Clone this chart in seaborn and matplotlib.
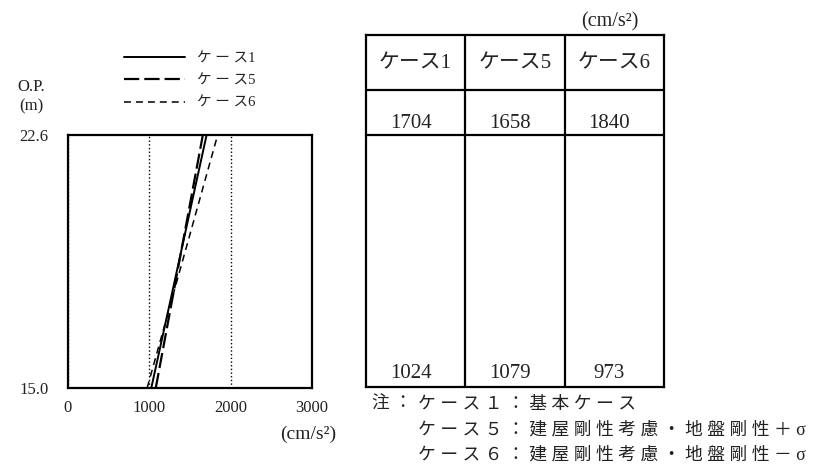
import matplotlib
matplotlib.use("Agg")
import matplotlib.pyplot as plt
import pandas as pd
import seaborn as sns

# Data
heights = [15.0, 22.6]                 # O.P. (m)
cases = ["ケース1", "ケース5", "ケース6"]
acc_bottom = [1024, 1079, 973]         # cm/s2 at O.P. 15.0
acc_top = [1704, 1658, 1840]           # cm/s2 at O.P. 22.6
x_ticks = [0, 1000, 2000, 3000]
note_head = "注："
notes = ["ケース１：基本ケース",
         "ケース５：建屋剛性考慮・地盤剛性＋σ",
         "ケース６：建屋剛性考慮・地盤剛性－σ"]

df = pd.DataFrame({
    "case": [c for c in cases for _ in heights],
    "height": heights * len(cases),
    "acc": [v for b, t in zip(acc_bottom, acc_top) for v in (b, t)],
})

sns.set_theme(style="white")
plt.rcParams["font.family"] = ["Liberation Serif", "Noto Sans CJK JP"]
plt.rcParams["lines.scale_dashes"] = False

W, H = 820, 468
fig = plt.figure(figsize=(W / 100, H / 100), dpi=100)
TXT = "#222222"


def fx(px):
    return px / W


def fy(py):
    return 1 - py / H


spaced = lambda s: " ".join(s)

# ---- profile plot ----
ax = fig.add_axes([fx(68), fy(388), fx(312 - 68), (388 - 135) / H])
styles = {"ケース1": ("-", 1.4), "ケース5": ((0, (11, 3.6)), 1.6), "ケース6": ((0, (5, 3.6)), 1.1)}
for case in cases:
    sub = df[df["case"] == case]
    ls, lw = styles[case]
    sns.lineplot(data=sub, x="acc", y="height", ax=ax, color="black",
                 linestyle=ls, linewidth=lw, sort=False, legend=False,
                 estimator=None, label=case)

ax.set_xlim(x_ticks[0], x_ticks[-1])
ax.set_ylim(heights[0], heights[-1])
ax.set_xticks(x_ticks)
ax.set_yticks(heights)
ax.set_yticklabels([f"{h:.1f}" for h in heights])
ax.set_xlabel("")
ax.set_ylabel("")
ax.xaxis.grid(True, color="black", linestyle=":", linewidth=1.0)
ax.yaxis.grid(False)
ax.tick_params(axis="both", length=0, labelsize=12, colors=TXT)
ax.tick_params(axis="y", pad=14)
ax.tick_params(axis="x", pad=9)
for sp in ax.spines.values():
    sp.set_color("black")
    sp.set_linewidth(1.6)

handles, labels = ax.get_legend_handles_labels()
fig.legend(handles, [spaced(l[:-1]) + l[-1] for l in labels],
           loc="upper left", bbox_to_anchor=(fx(124), fy(52)),
           frameon=False, fontsize=10.5, handlelength=4.2, handletextpad=0.8,
           labelspacing=0.62, borderpad=0, borderaxespad=0,
           labelcolor=TXT)

fig.text(fx(31), fy(87), "O.P.", ha="center", va="center", fontsize=12, color=TXT)
fig.text(fx(31), fy(106), "(m)", ha="center", va="center", fontsize=12, color=TXT)
fig.text(fx(308), fy(434), "(cm/s²)", ha="center", va="center", fontsize=14, color=TXT)

# ---- value table ----
tax = fig.add_axes([fx(366), fy(387), fx(664 - 366), (387 - 35) / H])
tax.set_xlim(0, len(cases))
tax.set_ylim(387, 35)
tax.set_xticks([])
tax.set_yticks([])
tax.grid(False)
for sp in tax.spines.values():
    sp.set_color("black")
    sp.set_linewidth(1.6)
for i in range(1, len(cases)):
    tax.axvline(i, color="black", linewidth=1.6)
for yline in (90, 135):
    tax.axhline(yline, color="black", linewidth=1.6)

for i, case in enumerate(cases):
    tax.text(i + 0.5, 64, case, ha="center", va="center", fontsize=15, color=TXT)
    tax.text(i + 0.45, 124, str(acc_top[i]), ha="center", va="center", fontsize=15, color=TXT)
    tax.text(i + 0.45, 373, str(acc_bottom[i]), ha="center", va="center", fontsize=15, color=TXT)

fig.text(fx(610), fy(22), "(cm/s²)", ha="center", va="center", fontsize=14.5, color=TXT)

fig.text(fx(372), fy(404), spaced(note_head), ha="left", va="center", fontsize=12.8, color=TXT)
for k, line in enumerate(notes):
    fig.text(fx(418), fy(404 + 25.5 * k), spaced(line), ha="left", va="center",
             fontsize=12.8, color=TXT)

fig.savefig("out.png", dpi=100)
